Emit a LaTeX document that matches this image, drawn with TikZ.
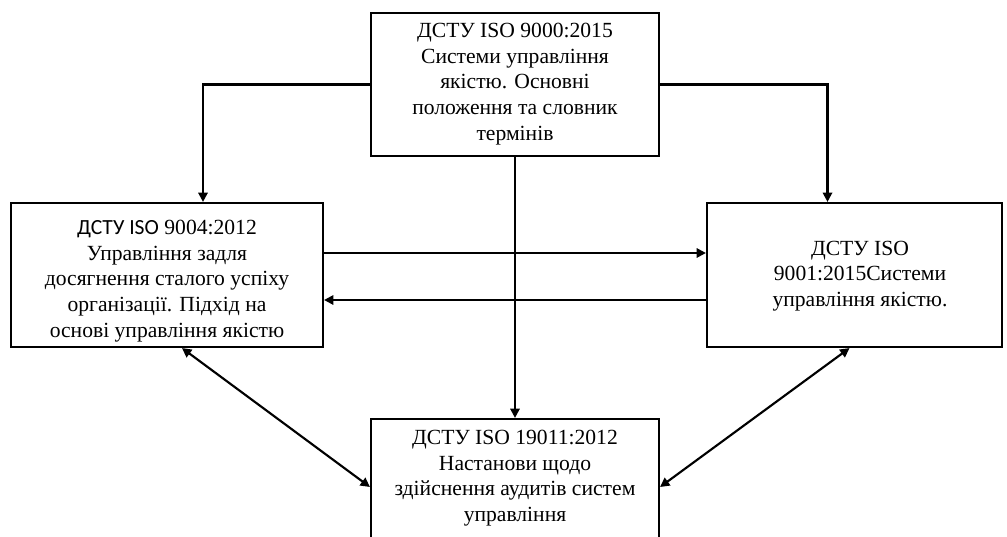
\documentclass[tikz,border=0pt]{standalone}
\usepackage{fontspec}
\setmainfont{Liberation Serif}
\newfontfamily\calfont{Carlito}
\usetikzlibrary{arrows.meta,calc}
\begin{document}
\begin{tikzpicture}[x=0.75pt,y=-0.75pt,
  box/.style={draw,line width=1.6pt,rectangle,inner sep=0pt},
  txt/.style={align=center,inner sep=0pt,font=\fontsize{16.2}{19.2}\selectfont},
  arr/.style={line width=1.6pt,-{Triangle[length=7pt,width=7pt]}},
  darr/.style={line width=1.6pt,{Triangle[length=7pt,width=7pt]}-{Triangle[length=7pt,width=7pt]}}]
\useasboundingbox (0,0) rectangle (1007,536);
\clip (0,0) rectangle (1007,536);
\fill[white] (0,0) rectangle (1007,536);
\node[box,minimum width=288*0.75pt,minimum height=143*0.75pt] (t) at (515,84.5) {};
\node[box,minimum width=312*0.75pt,minimum height=144*0.75pt] (l) at (167,275) {};
\node[box,minimum width=295*0.75pt,minimum height=144*0.75pt] (r) at (854.5,275) {};
\node[box,minimum width=288*0.75pt,minimum height=136*0.75pt] (b) at (515,487) {};
\node[txt] (tt) at (515,84) {ДСТУ ISO 9000:2015\\Системи управління\\якістю. Основні\\положення та словник\\термінів};
\node[txt] (lt) at (167,281) {{\calfont ДСТУ ISO} 9004:2012\\Управління задля\\досягнення сталого успіху\\організації. Підхід на\\основі управління якістю};
\node[txt] (rt) at (860,276) {ДСТУ ISO\\9001:2015Системи\\управління якістю.};
\node[txt] (bt) at (515,478) {ДСТУ ISO 19011:2012\\Настанови щодо\\здійснення аудитів систем\\управління};
\draw[arr] (t.west) -| ($(l.north)+(36,0)$);
\draw[arr] (t.east) -| ($(r.north)+(-27,0)$);
\draw[arr] (t.south) -- (b.north);
\draw[arr] ($(l.east)+(0,-22)$) -- ($(r.west)+(0,-22)$);
\draw[arr] ($(r.west)+(0,25)$) -- ($(l.east)+(0,25)$);
\draw[darr] ($(l.south)+(15,0)$) -- (b.west);
\draw[darr] ($(r.south)+(-5,0)$) -- (b.east);
\end{tikzpicture}
\end{document}
